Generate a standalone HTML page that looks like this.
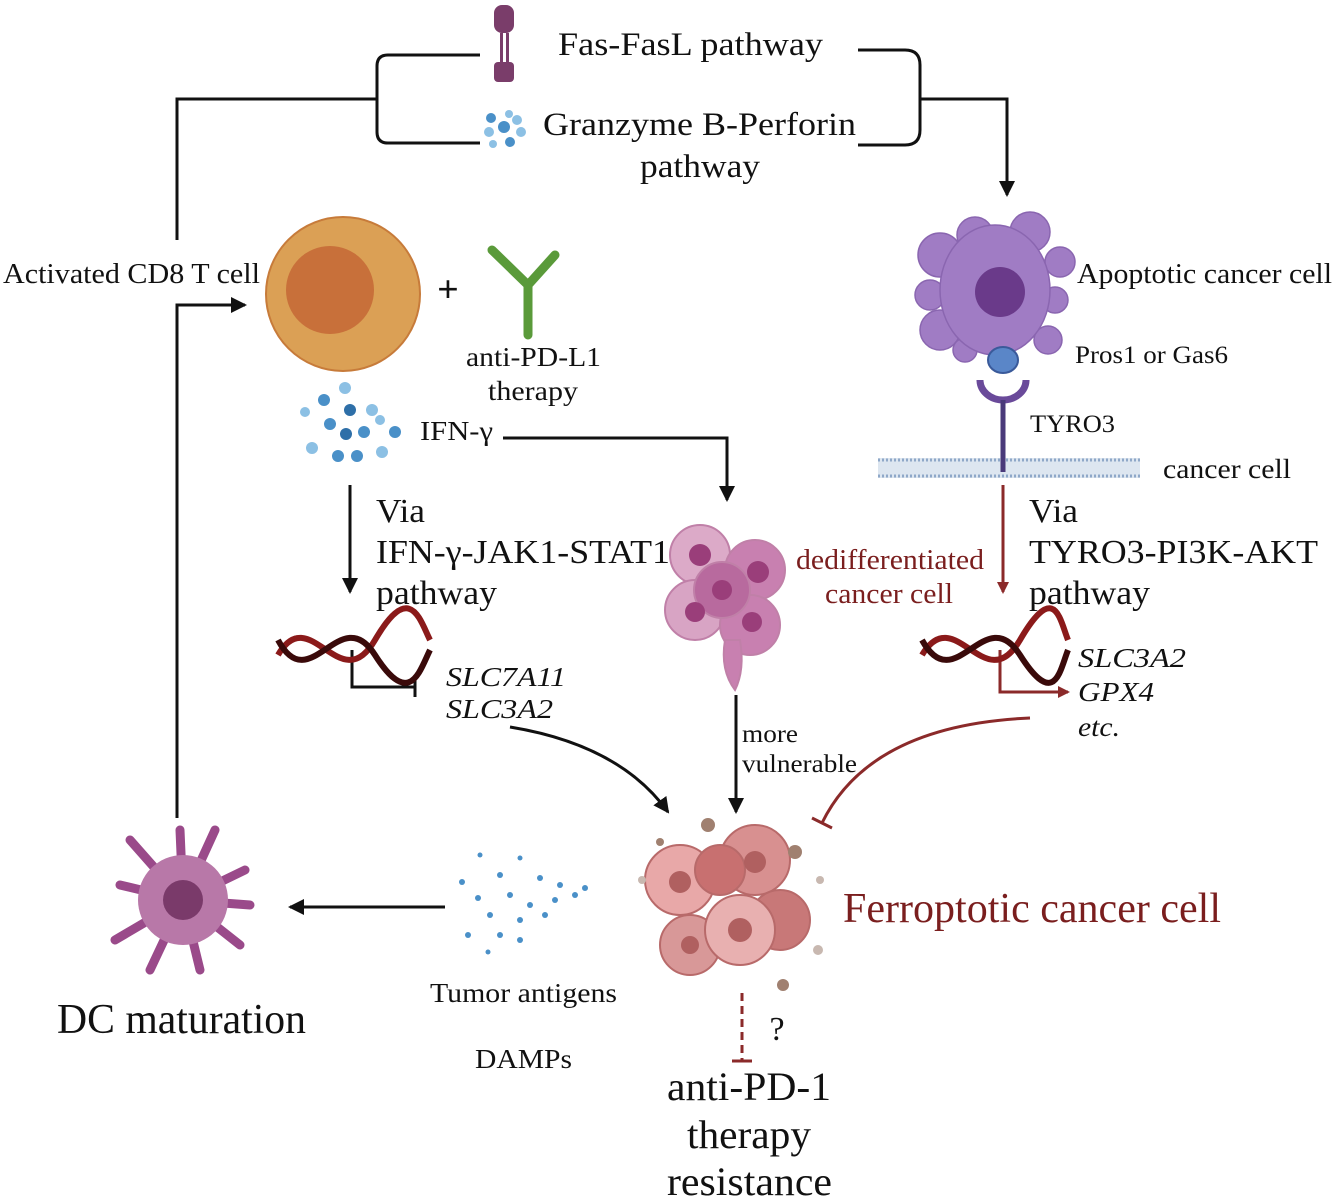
<!DOCTYPE html>
<html><head><meta charset="utf-8"><style>
html,body{margin:0;padding:0;background:#fff}
svg{display:block}
text{font-family:"Liberation Serif",serif;fill:#111}
</style></head><body>
<svg width="1336" height="1201" viewBox="0 0 1336 1201" xmlns="http://www.w3.org/2000/svg">
<defs>
<marker id="ar" markerWidth="12" markerHeight="12" refX="10" refY="6" orient="auto" markerUnits="userSpaceOnUse"><path d="M0,0 L12,6 L0,12 z" fill="#8b2a2a"/></marker>
<marker id="abig" markerWidth="16" markerHeight="16" refX="14" refY="8" orient="auto" markerUnits="userSpaceOnUse"><path d="M0,0 L16,8 L0,16 z" fill="#111"/></marker>
</defs>
<g fill="none" stroke="#111" stroke-width="3">
<path d="M480,55 H388 Q377,55 377,66 V132 Q377,143 388,143 H480"/>
<path d="M377,99 H177 V240"/>
<path d="M858,50 H905 Q920,50 920,65 V130 Q920,145 905,145 H858"/>
<path d="M920,99 H1007 V195" marker-end="url(#abig)"/>
<path d="M177,818 V305 H245" marker-end="url(#abig)"/>
<path d="M503,438 H727 V500" marker-end="url(#abig)"/>
<path d="M350,485 V592" marker-end="url(#abig)"/>
<path d="M352,650 V687 H415 M415,677 V697"/>
<path d="M510,727 Q620,745 668,812" marker-end="url(#abig)"/>
<path d="M736,695 V812" marker-end="url(#abig)"/>
<path d="M445,907 H290" marker-end="url(#abig)"/>
</g>
<g fill="none" stroke="#8b2a2a" stroke-width="3">
<path d="M1003,485 V592" marker-end="url(#ar)"/>
<path d="M1000,650 V692 H1068" marker-end="url(#ar)"/>
<path d="M1030,718 Q870,725 822,823 M812,818 L832,828"/>
<path d="M742,993 V1060" stroke-dasharray="8,5"/>
<path d="M732,1061 H752"/>
</g>
<g fill="#7a3d6a"><rect x="494" y="5" width="20" height="28" rx="8"/><rect x="494" y="62" width="20" height="20" rx="4"/><rect x="500" y="33" width="3" height="30"/><rect x="506" y="33" width="3" height="30"/></g>
<g fill="#4a90c8"><circle cx="491" cy="118" r="5"/><circle cx="504" cy="127" r="6"/><circle cx="517" cy="120" r="5" fill="#8cc0e4"/><circle cx="489" cy="132" r="5" fill="#8cc0e4"/><circle cx="510" cy="142" r="5"/><circle cx="493" cy="144" r="4" fill="#8cc0e4"/><circle cx="521" cy="132" r="5" fill="#8cc0e4"/><circle cx="509" cy="114" r="4" fill="#8cc0e4"/></g>
<text x="558" y="55" font-size="33" textLength="265" lengthAdjust="spacingAndGlyphs">Fas-FasL pathway</text>
<text x="543" y="135" font-size="33" textLength="313" lengthAdjust="spacingAndGlyphs">Granzyme B-Perforin</text>
<text x="640" y="177" font-size="33" textLength="120" lengthAdjust="spacingAndGlyphs">pathway</text>
<text x="3" y="283" font-size="28" textLength="257" lengthAdjust="spacingAndGlyphs">Activated CD8 T cell</text>
<circle cx="343" cy="294" r="77" fill="#dba055" stroke="#c77b3a" stroke-width="2"/>
<circle cx="330" cy="290" r="44" fill="#c8703a"/>
<text x="448" y="302" font-size="38" text-anchor="middle" font-weight="bold">+</text>
<g stroke="#5a9a3a" stroke-width="9" fill="none" stroke-linecap="round"><path d="M528,335 V285 L492,250"/><path d="M528,285 L555,255"/></g>
<text x="466" y="366" font-size="27" textLength="135" lengthAdjust="spacingAndGlyphs">anti-PD-L1</text>
<text x="488" y="400" font-size="27" textLength="90" lengthAdjust="spacingAndGlyphs">therapy</text>
<g fill="#8cc0e4"><circle cx="345" cy="388" r="6"/><circle cx="324" cy="400" r="6" fill="#4a90c8"/><circle cx="305" cy="412" r="5"/><circle cx="350" cy="410" r="6" fill="#2e6fa8"/><circle cx="372" cy="410" r="6"/><circle cx="330" cy="424" r="6" fill="#4a90c8"/><circle cx="346" cy="434" r="6" fill="#2e6fa8"/><circle cx="364" cy="432" r="6" fill="#4a90c8"/><circle cx="395" cy="432" r="6" fill="#4a90c8"/><circle cx="380" cy="420" r="5"/><circle cx="312" cy="448" r="6"/><circle cx="338" cy="456" r="6" fill="#4a90c8"/><circle cx="357" cy="456" r="6" fill="#4a90c8"/><circle cx="382" cy="452" r="6"/></g>
<text x="420" y="440" font-size="27" textLength="73" lengthAdjust="spacingAndGlyphs">IFN-γ</text>
<text x="376" y="522" font-size="34" textLength="49" lengthAdjust="spacingAndGlyphs">Via</text>
<text x="376" y="563" font-size="34" textLength="294" lengthAdjust="spacingAndGlyphs">IFN-γ-JAK1-STAT1</text>
<text x="376" y="604" font-size="34" textLength="121" lengthAdjust="spacingAndGlyphs">pathway</text>
<g fill="none" stroke-width="6"><path d="M278,655 C310,600 340,700 375,640 S420,620 430,640" stroke="#8b1a1a"/><path d="M278,640 C310,700 340,600 375,655 S420,670 430,650" stroke="#3a0a0a"/></g>
<text x="446" y="686" font-size="27" font-style="italic" textLength="120" lengthAdjust="spacingAndGlyphs">SLC7A11</text>
<text x="446" y="718" font-size="27" font-style="italic" textLength="107" lengthAdjust="spacingAndGlyphs">SLC3A2</text>
<g stroke="#c080a8" stroke-width="2"><circle cx="700" cy="555" r="30" fill="#dcaac8"/><circle cx="755" cy="570" r="30" fill="#c880b0"/><circle cx="695" cy="610" r="30" fill="#d8a4c4"/><circle cx="750" cy="625" r="30" fill="#c880b0"/><path d="M725,640 Q720,670 735,690 Q745,670 740,640z" fill="#c880b0"/><circle cx="722" cy="590" r="28" fill="#b86a9e"/></g>
<g fill="#9a3e7a"><circle cx="700" cy="555" r="11"/><circle cx="758" cy="572" r="11"/><circle cx="722" cy="590" r="10"/><circle cx="695" cy="612" r="10"/><circle cx="752" cy="622" r="10"/></g>
<text x="796" y="569" font-size="29" style="fill:#7a1e1e" textLength="188" lengthAdjust="spacingAndGlyphs">dedifferentiated</text>
<text x="825" y="603" font-size="29" style="fill:#7a1e1e" textLength="128" lengthAdjust="spacingAndGlyphs">cancer cell</text>
<text x="742" y="742" font-size="25" textLength="56" lengthAdjust="spacingAndGlyphs">more</text>
<text x="742" y="772" font-size="25" textLength="115" lengthAdjust="spacingAndGlyphs">vulnerable</text>
<g fill="#a07cc4" stroke="#8a66b0" stroke-width="1.5"><circle cx="940" cy="255" r="22"/><circle cx="975" cy="235" r="18"/><circle cx="1030" cy="232" r="20"/><circle cx="1060" cy="262" r="15"/><circle cx="1055" cy="300" r="13"/><circle cx="1048" cy="340" r="14"/><circle cx="940" cy="330" r="20"/><circle cx="965" cy="350" r="12"/><circle cx="930" cy="295" r="15"/><ellipse cx="995" cy="290" rx="55" ry="65"/></g>
<ellipse cx="1000" cy="292" rx="25" ry="25" fill="#6a3a8a"/>
<text x="1077" y="283" font-size="28" textLength="255" lengthAdjust="spacingAndGlyphs">Apoptotic cancer cell</text>
<text x="1075" y="363" font-size="25" textLength="153" lengthAdjust="spacingAndGlyphs">Pros1 or Gas6</text>
<ellipse cx="1003" cy="360" rx="15" ry="13" fill="#5a86c8" stroke="#3a5a9a" stroke-width="2"/>
<path d="M980,380 A23,20 0 0 0 1026,380" fill="none" stroke="#6a4a9a" stroke-width="7"/>
<line x1="1003" y1="400" x2="1003" y2="470" stroke="#4a3a7a" stroke-width="5"/>
<text x="1030" y="432" font-size="25" textLength="85" lengthAdjust="spacingAndGlyphs">TYRO3</text>
<rect x="878" y="458" width="262" height="20" fill="#dde6f0"/>
<line x1="878" y1="460" x2="1140" y2="460" stroke="#8fa8c8" stroke-width="3" stroke-dasharray="2,2"/>
<line x1="878" y1="476" x2="1140" y2="476" stroke="#8fa8c8" stroke-width="3" stroke-dasharray="2,2"/>
<line x1="1003" y1="455" x2="1003" y2="472" stroke="#4a3a7a" stroke-width="5"/>
<text x="1163" y="478" font-size="27" textLength="128" lengthAdjust="spacingAndGlyphs">cancer cell</text>
<text x="1029" y="522" font-size="34" textLength="49" lengthAdjust="spacingAndGlyphs">Via</text>
<text x="1029" y="563" font-size="34" textLength="289" lengthAdjust="spacingAndGlyphs">TYRO3-PI3K-AKT</text>
<text x="1029" y="604" font-size="34" textLength="121" lengthAdjust="spacingAndGlyphs">pathway</text>
<g fill="none" stroke-width="6"><path d="M922,655 C955,600 985,700 1020,640 S1060,620 1068,640" stroke="#8b1a1a"/><path d="M922,640 C955,700 985,600 1020,655 S1060,670 1068,650" stroke="#3a0a0a"/></g>
<text x="1078" y="667" font-size="27" font-style="italic" textLength="108" lengthAdjust="spacingAndGlyphs">SLC3A2</text>
<text x="1078" y="701" font-size="27" font-style="italic" textLength="76" lengthAdjust="spacingAndGlyphs">GPX4</text>
<text x="1078" y="736" font-size="27" font-style="italic" textLength="42" lengthAdjust="spacingAndGlyphs">etc.</text>
<g stroke="#b86a6a" stroke-width="2"><circle cx="680" cy="880" r="35" fill="#e8a8a8"/><circle cx="755" cy="860" r="35" fill="#d89090"/><circle cx="780" cy="920" r="30" fill="#c87878"/><circle cx="690" cy="945" r="30" fill="#d89898"/><circle cx="740" cy="930" r="35" fill="#e8b0b0"/><circle cx="720" cy="870" r="25" fill="#c87070"/></g>
<g fill="#b06060"><circle cx="680" cy="882" r="11"/><circle cx="755" cy="862" r="11"/><circle cx="740" cy="930" r="12"/><circle cx="690" cy="945" r="9"/></g>
<g fill="#a08070"><circle cx="708" cy="825" r="7"/><circle cx="795" cy="852" r="7"/><circle cx="783" cy="985" r="6"/><circle cx="818" cy="950" r="5" fill="#c8b8b0"/><circle cx="660" cy="842" r="4"/><circle cx="642" cy="880" r="4" fill="#c8b8b0"/><circle cx="820" cy="880" r="4" fill="#c8b8b0"/></g>
<text x="843" y="922" font-size="42" style="fill:#7a1e1e" textLength="378" lengthAdjust="spacingAndGlyphs">Ferroptotic cancer cell</text>
<text x="777" y="1040" font-size="34" text-anchor="middle">?</text>
<text x="667" y="1100" font-size="40" textLength="164" lengthAdjust="spacingAndGlyphs">anti-PD-1</text>
<text x="687" y="1148" font-size="40" textLength="124" lengthAdjust="spacingAndGlyphs">therapy</text>
<text x="667" y="1195" font-size="40" textLength="165" lengthAdjust="spacingAndGlyphs">resistance</text>
<g fill="#4a90c8"><circle cx="480" cy="855" r="2.5"/><circle cx="520" cy="858" r="2.5"/><circle cx="462" cy="882" r="3"/><circle cx="500" cy="875" r="3"/><circle cx="540" cy="878" r="3"/><circle cx="560" cy="885" r="3"/><circle cx="585" cy="888" r="3"/><circle cx="478" cy="898" r="3"/><circle cx="510" cy="895" r="3"/><circle cx="530" cy="905" r="3"/><circle cx="555" cy="900" r="3"/><circle cx="575" cy="895" r="3"/><circle cx="490" cy="915" r="3"/><circle cx="520" cy="920" r="3"/><circle cx="545" cy="915" r="3"/><circle cx="468" cy="935" r="3"/><circle cx="500" cy="935" r="3"/><circle cx="520" cy="940" r="3"/><circle cx="488" cy="952" r="2.5"/></g>
<text x="430" y="1002" font-size="27" textLength="187" lengthAdjust="spacingAndGlyphs">Tumor antigens</text>
<text x="475" y="1068" font-size="27" textLength="97" lengthAdjust="spacingAndGlyphs">DAMPs</text>
<g stroke="#9a4a8a" stroke-width="9" stroke-linecap="round" fill="none">
<path d="M183,900 L130,840 M183,900 L180,830 M183,900 L215,830 M183,900 L245,870 M183,900 L250,905 M183,900 L240,945 M183,900 L200,970 M183,900 L150,970 M183,900 L115,940 M183,900 L120,885"/></g>
<circle cx="183" cy="900" r="45" fill="#b878a8"/>
<circle cx="183" cy="900" r="20" fill="#7a3a6a"/>
<text x="57" y="1033" font-size="42" textLength="249" lengthAdjust="spacingAndGlyphs">DC maturation</text>
</svg>
</body></html>
